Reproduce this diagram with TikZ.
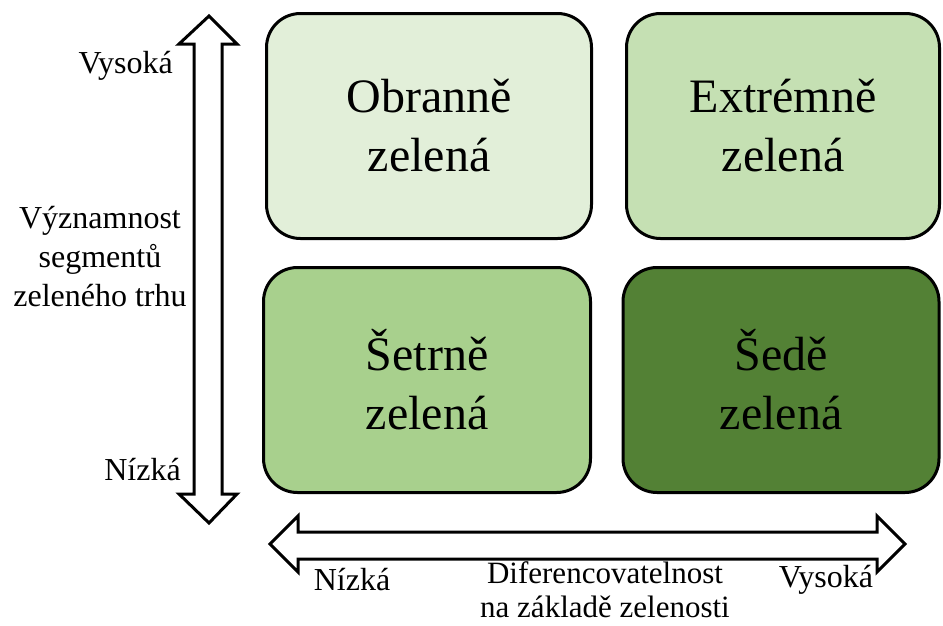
\documentclass[tikz,border=0pt]{standalone}
\usepackage{fontspec}
\setmainfont{Liberation Serif}
\definecolor{greenA}{HTML}{E2EFD9}
\definecolor{greenB}{HTML}{C5E0B3}
\definecolor{greenC}{HTML}{A8D08D}
\definecolor{greenD}{HTML}{538135}
\begin{document}
\begin{tikzpicture}[x=1pt,y=-1pt,
  quad/.style={draw,line width=3pt,rounded corners=34pt,align=center,
    font=\fontsize{48}{59}\selectfont},
  lab/.style={font=\fontsize{32}{39}\selectfont,align=center,inner sep=0pt}]
\useasboundingbox (0,0) rectangle (943,625);
% quadrants
\node[quad,fill=greenA,minimum width=325pt,minimum height=225pt] (obranne) at (429,126) {Obranně\\zelená};
\node[quad,fill=greenB,minimum width=313pt,minimum height=225pt] (extremne) at (783,126) {Extrémně\\zelená};
\node[quad,fill=greenC,minimum width=327pt,minimum height=225pt] (setrne) at (427,380) {Šetrně\\zelená};
\node[quad,fill=greenD,minimum width=316pt,minimum height=225pt] (sede) at (781,380) {Šedě\\zelená};
% axes
\draw[line width=3pt,fill=white,line join=miter] (209,16) -- (237,44) -- (222,44) -- (222,494) -- (237,494) -- (209,523) -- (179,494) -- (194,494) -- (194,44) -- (179,44) -- cycle;
\draw[line width=3pt,fill=white,line join=miter] (270,544) -- (298,516) -- (298,532) -- (877,532) -- (877,516) -- (905,544) -- (877,572) -- (877,559) -- (298,559) -- (298,572) -- cycle;
% labels
\node[lab,anchor=east] (yhigh) at (173,66) {Vysoká};
\node[lab,anchor=east] (ylow) at (181,470) {Nízká};
\node[lab] (ytitle) at (100,257) {Významnost\\segmentů\\zeleného trhu};
\node[lab] (xlow) at (352,580) {Nízká};
\node[lab] (xhigh) at (826,580) {Vysoká};
\node[lab,font=\fontsize{31}{34}\selectfont] (xtitle) at (605,590) {Diferencovatelnost\\na základě zelenosti};
\end{tikzpicture}
\end{document}
